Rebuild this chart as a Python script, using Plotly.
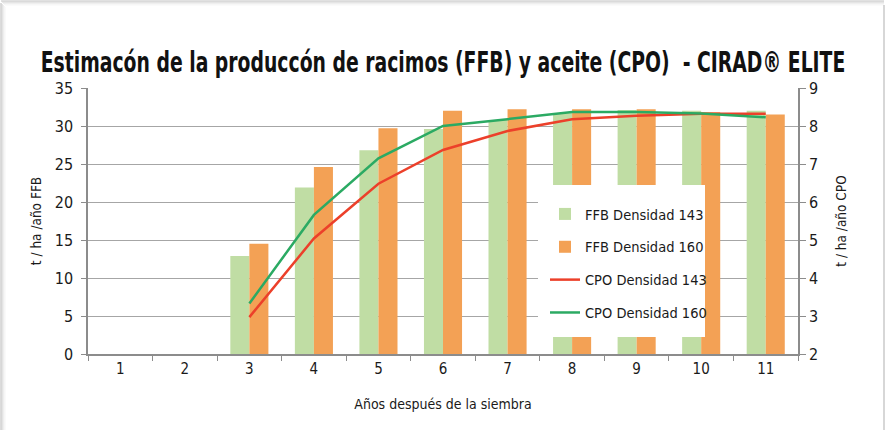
import plotly.graph_objects as go

years = ["1", "2", "3", "4", "5", "6", "7", "8", "9", "10", "11"]
ffb_143 = [None, None, 12.9, 21.9, 26.8, 29.6, 30.8, 31.7, 32.1, 32.0, 32.0]
ffb_160 = [None, None, 14.5, 24.6, 29.7, 32.0, 32.2, 32.2, 32.2, 31.8, 31.5]
cpo_years = ["3", "4", "5", "6", "7", "8", "9", "10", "11"]
cpo_143 = [2.97, 5.04, 6.48, 7.37, 7.87, 8.18, 8.27, 8.32, 8.32]
cpo_160 = [3.33, 5.66, 7.15, 8.0, 8.18, 8.37, 8.37, 8.33, 8.23]

title_text = "Estimacón de la produccón de racimos (FFB) y aceite (CPO)  - CIRAD® ELITE"
FONT = "DejaVu Sans Condensed, Liberation Sans Narrow, Arial Narrow, sans-serif"

W, H = 885, 430
L, R, T, B = 88, 798, 88, 354


def px(x):
    return (x - L) / (R - L)


def py(y):
    return (B - y) / (B - T)


fig = go.Figure()
fig.add_trace(go.Bar(x=years, y=ffb_143, name="FFB Densidad 143",
                     marker=dict(color="#C0DDA4", line=dict(width=0)),
                     legendgroup="a"))
fig.add_trace(go.Bar(x=years, y=ffb_160, name="FFB Densidad 160",
                     marker=dict(color="#F3A155", line=dict(width=0)),
                     legendgroup="b"))
fig.add_trace(go.Scatter(x=cpo_years, y=cpo_143, name="CPO Densidad 143", yaxis="y2",
                         mode="lines", line=dict(color="#EC402A", width=2.5),
                         legendgroup="c"))
fig.add_trace(go.Scatter(x=cpo_years, y=cpo_160, name="CPO Densidad 160", yaxis="y2",
                         mode="lines", line=dict(color="#2BAA63", width=2.5),
                         legendgroup="d"))

shapes = []
# frame shadow left and top, right border
for i, c in enumerate(["#c4c4c4", "#d4d4d4", "#e2e2e2", "#eeeeee", "#f7f7f7"]):
    shapes.append(dict(type="line", xref="paper", yref="paper",
                       x0=px(1 + i), x1=px(1 + i), y0=py(3 + i), y1=py(431),
                       line=dict(color=c, width=1.2)))
    shapes.append(dict(type="line", xref="paper", yref="paper",
                       x0=px(1 + i), x1=px(884), y0=py(1 + i), y1=py(1 + i),
                       line=dict(color=c, width=1.2)))
shapes.append(dict(type="line", xref="paper", yref="paper",
                   x0=px(884), x1=px(884), y0=py(5), y1=py(431),
                   line=dict(color="#bdbdbd", width=1.2)))
# legend white box (covers bars and lines like the reference)
shapes.append(dict(type="rect", xref="paper", yref="paper", layer="above",
                   x0=px(538), x1=px(705), y0=py(337), y1=py(185),
                   fillcolor="white", line=dict(width=0)))

fig.update_layout(
    width=W, height=H,
    margin=dict(l=L, r=W - R, t=T, b=H - B, autoexpand=False),
    paper_bgcolor="white", plot_bgcolor="white",
    font=dict(family=FONT, color="#1a1a1a", size=15),
    title=dict(text=title_text, x=0.5, xref="paper", xanchor="center",
               y=1 - 62 / H, yanchor="middle", yref="container",
               font=dict(family=FONT, size=29, color="#111111", weight="bold")),
    barmode="group", bargap=0.41, bargroupgap=0,
    showlegend=True,
    legend=dict(x=px(545), y=py(198), xanchor="left", yanchor="top",
                bgcolor="rgba(0,0,0,0)", borderwidth=0, tracegroupgap=11,
                font=dict(family=FONT, size=14.5, color="#1a1a1a"),
                traceorder="grouped"),
    xaxis=dict(type="category", tickson="boundaries", ticks="outside", ticklen=5,
               tickcolor="#8c8c8c", showline=True, linecolor="#8c8c8c", linewidth=1.5,
               showgrid=False, tickfont=dict(size=15),
               title=dict(text="Años después de la siembra", font=dict(size=14), standoff=22)),
    yaxis=dict(range=[0, 35], dtick=5, ticks="outside", ticklen=5, tickcolor="#8c8c8c",
               showline=True, linecolor="#8c8c8c", linewidth=1.5, ticklabelstandoff=5,
               showgrid=True, gridcolor="#a6a6a6", gridwidth=1.3, zeroline=False,
               tickfont=dict(size=16),
               title=dict(text="t / ha /año FFB", font=dict(size=13.5), standoff=10)),
    yaxis2=dict(range=[2, 9], dtick=1, overlaying="y", side="right",
                ticks="outside", ticklen=6, tickcolor="#8c8c8c",
                showline=True, linecolor="#8c8c8c", linewidth=1.5,
                showgrid=False, zeroline=False, tickfont=dict(size=16),
                title=dict(text="t / ha /año CPO", font=dict(size=13.5), standoff=19)),
    shapes=shapes,
)

post = """
document.body.style.margin = '0px';
document.body.style.overflow = 'hidden';
var gd = document.getElementsByClassName('plotly-graph-div')[0];
function squeezeTitle() {
  var t = gd.querySelector('.gtitle');
  if (!t || t.getAttribute('data-squeezed')) { return; }
  var bb = t.getBBox();
  var target = 805;
  if (bb.width > target) {
    var s = target / bb.width;
    var cx = bb.x + bb.width / 2;
    var prev = t.getAttribute('transform') || '';
    t.setAttribute('transform', prev + ' translate(' + cx + ',0) scale(' + s + ',1) translate(' + (-cx) + ',0)');
    t.setAttribute('data-squeezed', '1');
  }
}
squeezeTitle();
if (gd.on) { gd.on('plotly_afterplot', function () { squeezeTitle(); }); }
"""

fig.write_html("out.html", post_script=post, config={"displayModeBar": False})
